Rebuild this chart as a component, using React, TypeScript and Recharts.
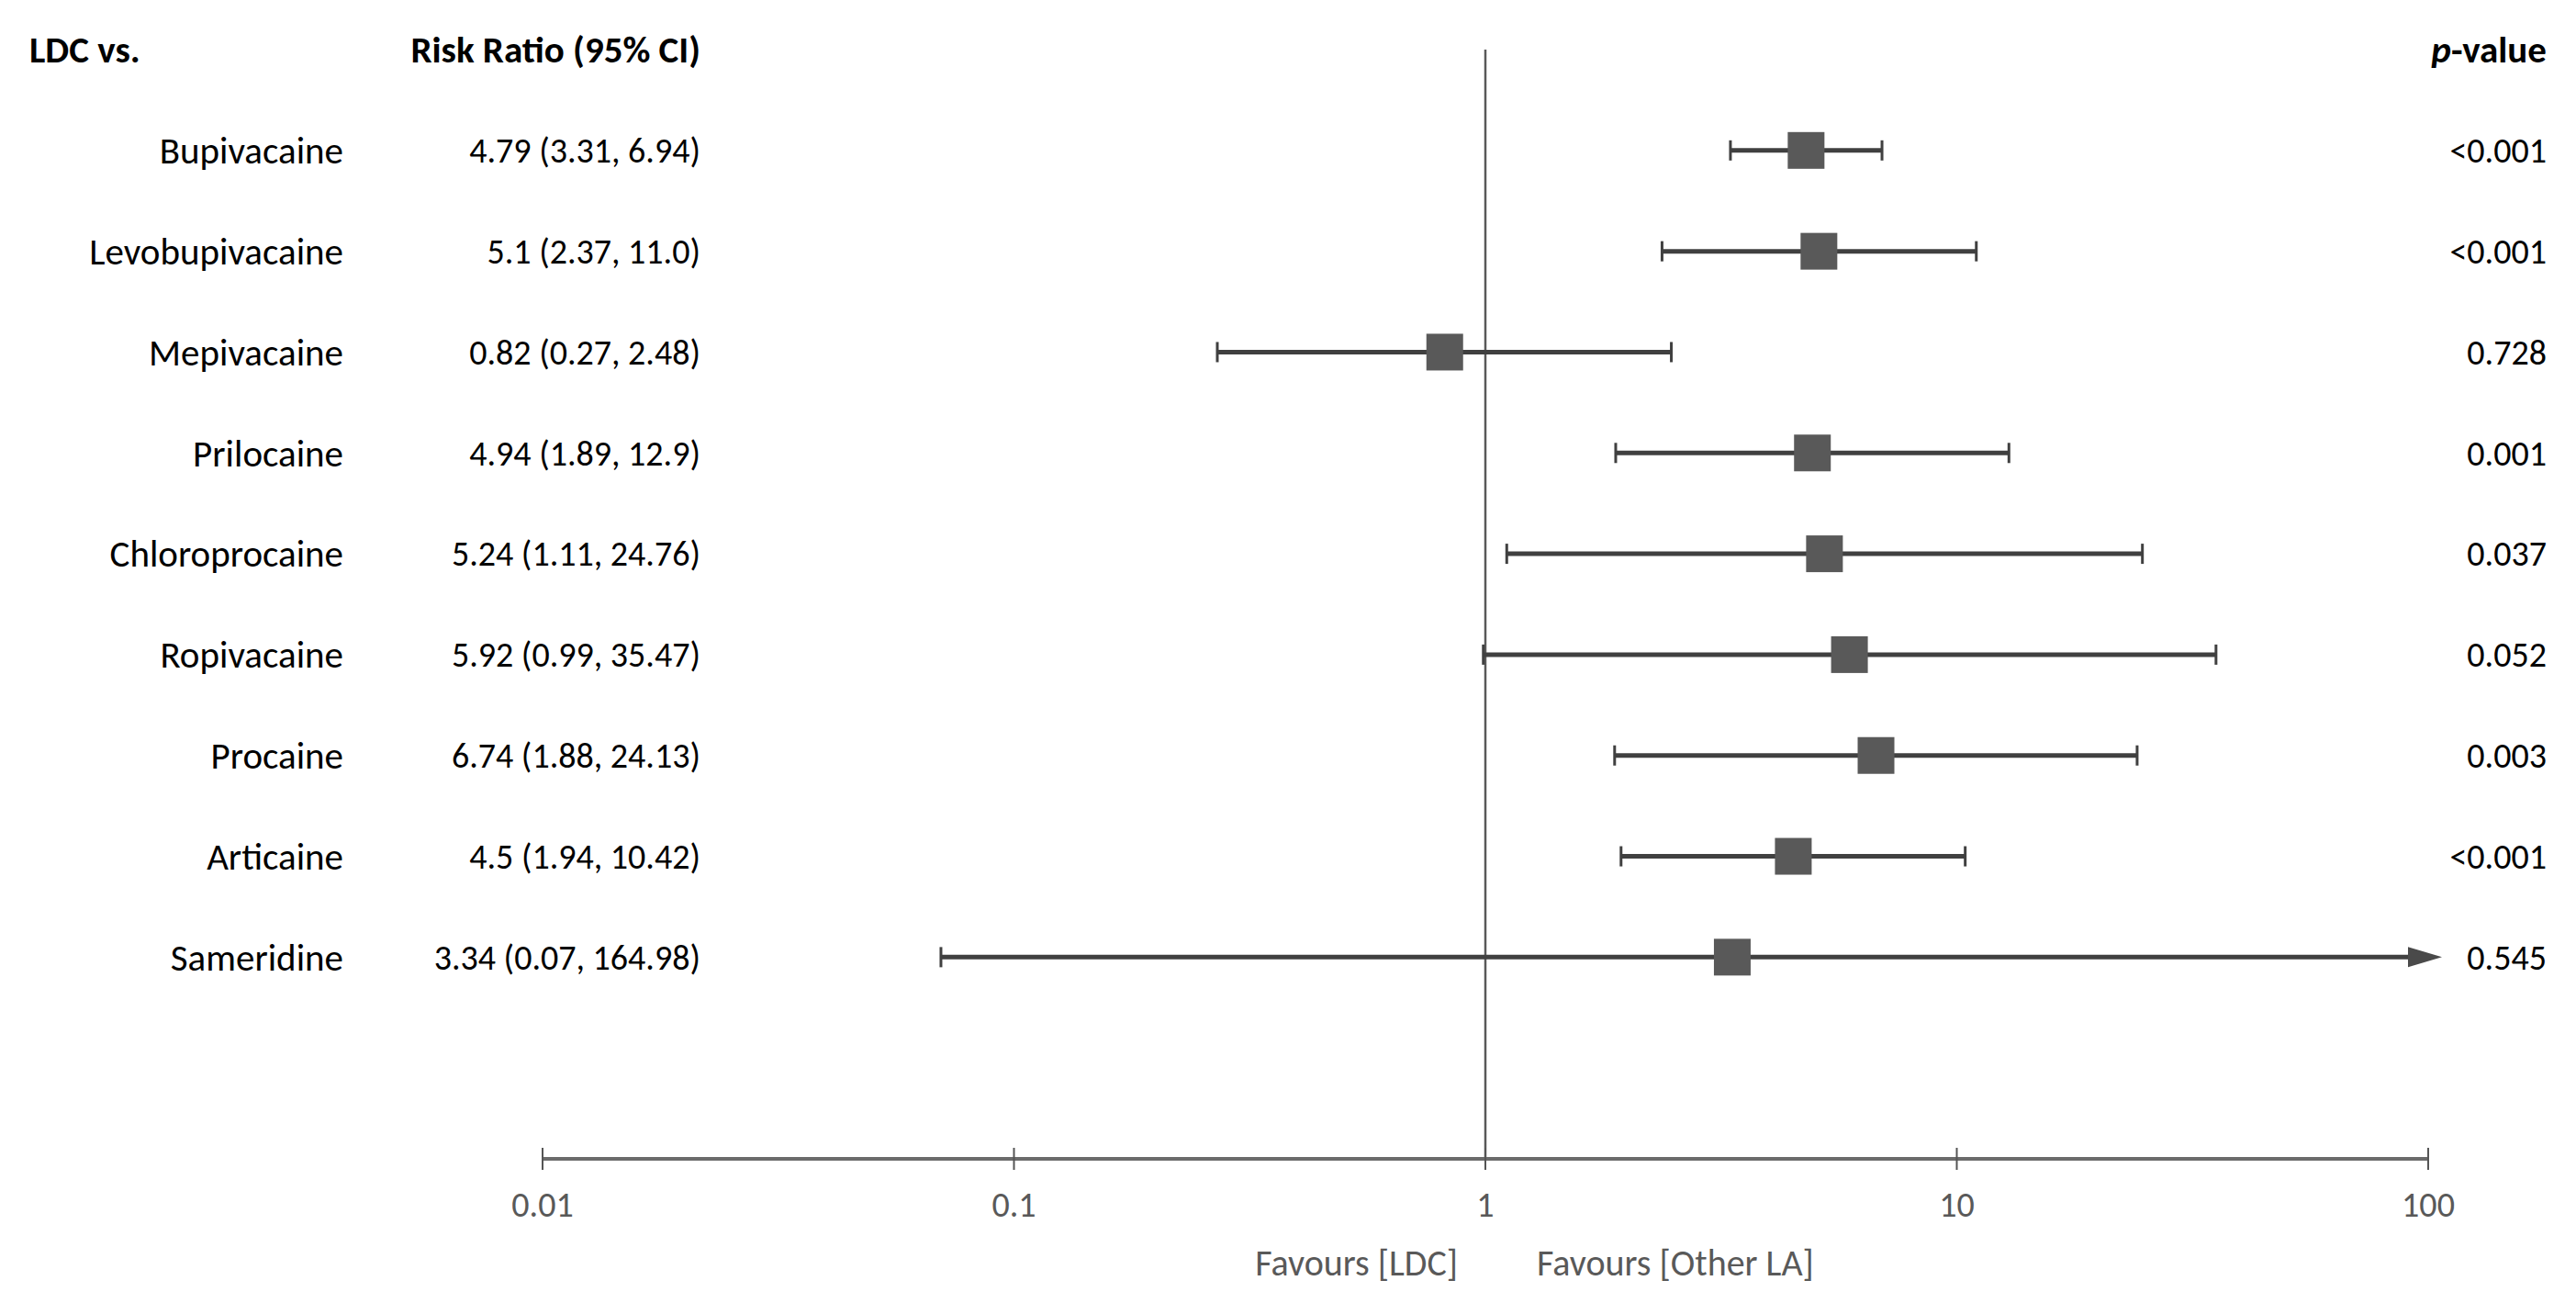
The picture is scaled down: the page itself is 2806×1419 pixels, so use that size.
import React from 'react';
import { ScatterChart, Scatter, XAxis, YAxis, ReferenceLine } from 'recharts';

// rows of the forest plot (LDC vs. each other local anaesthetic)
const drugs = [
  'Bupivacaine',
  'Levobupivacaine',
  'Mepivacaine',
  'Prilocaine',
  'Chloroprocaine',
  'Ropivacaine',
  'Procaine',
  'Articaine',
  'Sameridine',
];
const riskRatio = [4.79, 5.1, 0.82, 4.94, 5.24, 5.92, 6.74, 4.5, 3.34];
const ciLow = [3.31, 2.37, 0.27, 1.89, 1.11, 0.99, 1.88, 1.94, 0.07];
const ciHigh = [6.94, 11.0, 2.48, 12.9, 24.76, 35.47, 24.13, 10.42, 164.98];
const rrLabels = [
  '4.79 (3.31, 6.94)',
  '5.1 (2.37, 11.0)',
  '0.82 (0.27, 2.48)',
  '4.94 (1.89, 12.9)',
  '5.24 (1.11, 24.76)',
  '5.92 (0.99, 35.47)',
  '6.74 (1.88, 24.13)',
  '4.5 (1.94, 10.42)',
  '3.34 (0.07, 164.98)',
];
const pValues = ['<0.001', '<0.001', '0.728', '0.001', '0.037', '0.052', '0.003', '<0.001', '0.545'];
const xTicks = [0.01, 0.1, 1, 10, 100];

const AXIS_MIN = 0.01;
const AXIS_MAX = 100;
const rowTicks = [0, ...drugs.map((_, i) => i + 1)];

const FONT = 'Carlito, Calibri, Lato, sans-serif';
const FS_TEXT = 41; // names / headers
const FS_NUM = 38; // numbers

const points = drugs.map((name, i) => ({ name, x: riskRatio[i], y: i + 1 }));
const intervals = drugs.map((name, i) => [
  { x: ciLow[i], y: i + 1, end: 'cap' },
  { x: Math.min(ciHigh[i], AXIS_MAX), y: i + 1, end: ciHigh[i] > AXIS_MAX ? 'arrow' : 'cap' },
]);

const Square = (props: any) => {
  const { cx, cy } = props;
  return <rect x={cx - 20} y={cy - 20} width={40} height={40} fill="#595959" />;
};

const CiEnd = (props: any) => {
  const { cx, cy, payload } = props;
  if (payload.end === 'arrow') {
    return (
      <polygon
        points={`${cx - 22},${cy - 11} ${cx + 15},${cy} ${cx - 22},${cy + 11}`}
        fill="#4a4a4a"
      />
    );
  }
  return <line x1={cx} x2={cx} y1={cy - 11} y2={cy + 11} stroke="#404040" strokeWidth={3} />;
};

const LeftTick = (props: any) => {
  const { y, payload } = props;
  const v = payload.value;
  if (v === 0) {
    return (
      <g fontFamily={FONT} fontSize={FS_TEXT} fontWeight="bold" fill="#000">
        <text x={32} y={y} dy="0.35em" textAnchor="start">LDC vs.</text>
        <text x={763} y={y} dy="0.35em" textAnchor="end">Risk Ratio (95% CI)</text>
      </g>
    );
  }
  return (
    <g fontFamily={FONT} fill="#000">
      <text x={374} y={y} dy="0.35em" textAnchor="end" fontSize={FS_TEXT}>{drugs[v - 1]}</text>
      <text x={763} y={y} dy="0.35em" textAnchor="end" fontSize={FS_NUM}>{rrLabels[v - 1]}</text>
    </g>
  );
};

const RightTick = (props: any) => {
  const { y, payload } = props;
  const v = payload.value;
  if (v === 0) {
    return (
      <text x={2774} y={y} dy="0.35em" textAnchor="end" fontFamily={FONT} fontSize={FS_TEXT} fontWeight="bold" fill="#000">
        <tspan fontStyle="italic">p</tspan>-value
      </text>
    );
  }
  return (
    <text x={2774} y={y} dy="0.35em" textAnchor="end" fontFamily={FONT} fontSize={FS_NUM} fill="#000">
      {pValues[v - 1]}
    </text>
  );
};

const XTick = (props: any) => {
  const { x, y, payload } = props;
  return (
    <g fontFamily={FONT} fill="#595959">
      <line x1={x} x2={x} y1={y - 12} y2={y + 12} stroke="#555" strokeWidth={2} />
      <text x={x} y={y + 50} dy="0.35em" textAnchor="middle" fontSize={FS_NUM}>{payload.value}</text>
      {payload.value === 1 && (
        <>
          <text x={x - 30} y={y + 113} dy="0.35em" textAnchor="end" fontSize={40}>Favours [LDC]</text>
          <text x={x + 56} y={y + 113} dy="0.35em" textAnchor="start" fontSize={40}>Favours [Other LA]</text>
        </>
      )}
    </g>
  );
};

export default function App() {
  return (
    <div style={{ position: 'absolute', left: 0, top: 0, width: 2806, height: 1419, background: '#fff' }}>
      <ScatterChart width={2806} height={1419} margin={{ top: 54, right: 0, bottom: 0, left: 0 }}>
        <XAxis
          type="number"
          dataKey="x"
          scale="log"
          domain={[AXIS_MIN, AXIS_MAX]}
          ticks={xTicks}
          interval={0}
          height={157}
          axisLine={{ stroke: '#6b6b6b', strokeWidth: 4 }}
          tickLine={false}
          tickSize={0}
          tickMargin={0}
          tick={<XTick />}
        />
        <YAxis
          yAxisId="left"
          type="number"
          dataKey="y"
          domain={[0, 11]}
          reversed
          ticks={rowTicks}
          interval={0}
          width={591}
          axisLine={false}
          tickLine={false}
          tickSize={0}
          tickMargin={0}
          tick={<LeftTick />}
        />
        <YAxis
          yAxisId="right"
          orientation="right"
          type="number"
          dataKey="y"
          domain={[0, 11]}
          reversed
          ticks={rowTicks}
          interval={0}
          width={161}
          axisLine={false}
          tickLine={false}
          tickSize={0}
          tickMargin={0}
          tick={<RightTick />}
        />
        <ReferenceLine yAxisId="left" x={1} stroke="#595959" strokeWidth={2.5} />
        {intervals.map((d, i) => (
          <Scatter
            key={drugs[i]}
            yAxisId="left"
            data={d}
            line={{ stroke: '#404040', strokeWidth: 5 }}
            shape={<CiEnd />}
            isAnimationActive={false}
          />
        ))}
        <Scatter yAxisId="right" data={points} shape={<Square />} isAnimationActive={false} />
      </ScatterChart>
    </div>
  );
}
